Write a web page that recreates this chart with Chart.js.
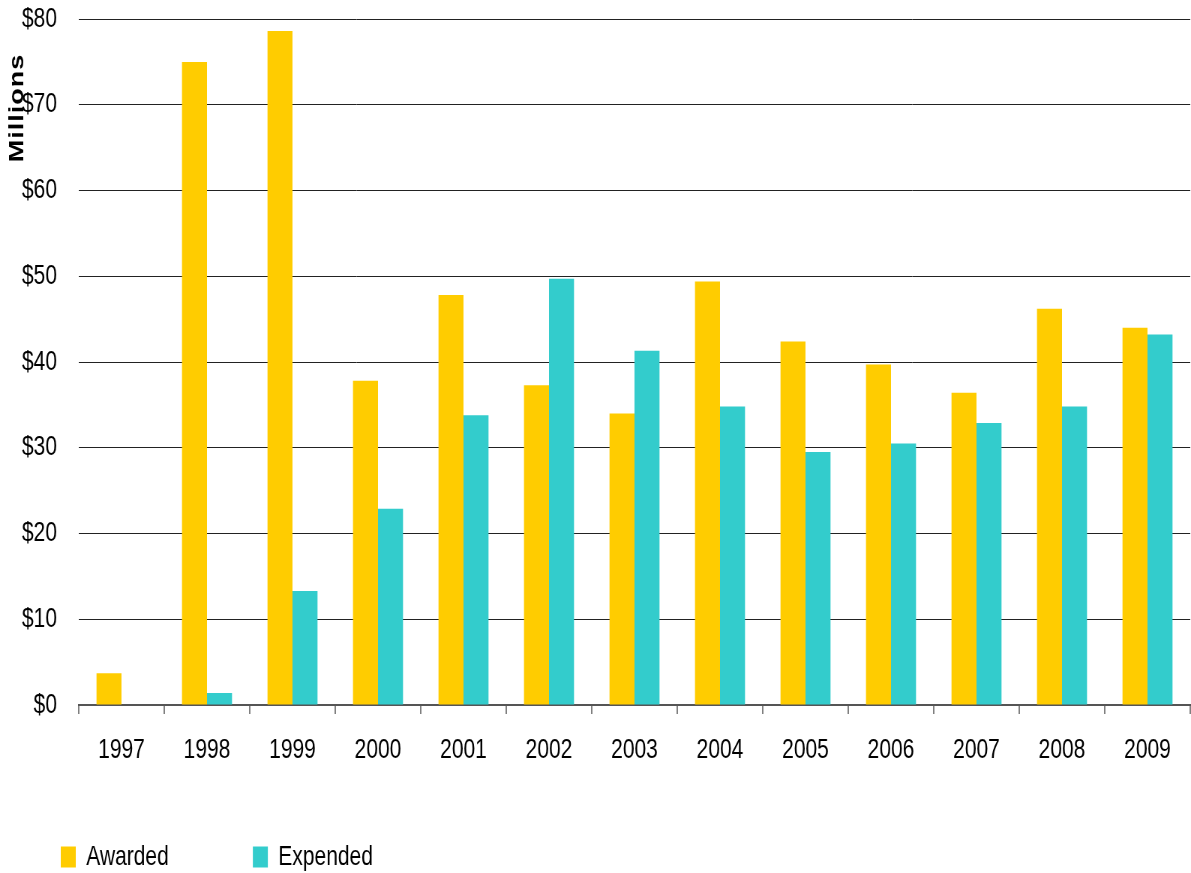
<!DOCTYPE html>
<html lang="en">
<head>
    <meta charset="UTF-8">
    <title>Awarded vs Expended</title>
    <script src="https://cdn.jsdelivr.net/npm/chart.js"></script>
    <style>
        body { margin: 0; background: #fff; overflow: hidden; }
        /* o original usa fonte condensada: desenha mais largo e comprime na horizontal */
        .wrap { width: 1588px; height: 873px; transform: scaleX(0.75); transform-origin: 0 0; }
    </style>
</head>
<body>
    <div class="wrap">
        <canvas id="myChart" width="1588" height="873"></canvas>
    </div>

<script>
    // dados (milhoes de dolares)
    const anos = ['1997', '1998', '1999', '2000', '2001', '2002', '2003', '2004', '2005', '2006', '2007', '2008', '2009'];
    const awarded = [3.7, 75.0, 78.6, 37.8, 47.8, 37.3, 34.0, 49.4, 42.4, 39.7, 36.4, 46.2, 44.0];
    const expended = [0, 1.4, 13.3, 22.9, 33.8, 49.7, 41.3, 34.8, 29.5, 30.5, 32.9, 34.8, 43.2];
    const yTicks = [0, 10, 20, 30, 40, 50, 60, 70, 80];

    const fonte = "'Liberation Sans', Arial, sans-serif";

    // titulo vertical "Millions" no canto superior esquerdo
    const tituloY = {
        id: 'tituloY',
        afterDraw(chart) {
            const ctx = chart.ctx;
            ctx.save();
            ctx.translate(24, 108);
            ctx.rotate(-Math.PI / 2);
            ctx.font = "bold 27px " + fonte;
            ctx.letterSpacing = '1px';
            ctx.fillStyle = '#000';
            ctx.textAlign = 'center';
            ctx.textBaseline = 'middle';
            ctx.fillText('Millions', 0, 0);
            ctx.restore();
        }
    };

    const chartData = {
        labels: anos,
        datasets: [{
            label: 'Awarded    ',
            data: awarded,
            backgroundColor: '#FFCC00',
            borderWidth: 0,
            categoryPercentage: 0.585,
            barPercentage: 1
        }, {
            label: 'Expended',
            data: expended,
            backgroundColor: '#33CCCC',
            borderWidth: 0,
            categoryPercentage: 0.585,
            barPercentage: 1
        }]
    };

    const options = {
        responsive: false,
        animation: false,
        layout: { padding: { top: 19, right: 1, left: 0, bottom: -8 } },
        plugins: {
            tooltip: { enabled: false },
            legend: {
                position: 'bottom',
                align: 'start',
                labels: {
                    boxWidth: 20,
                    boxHeight: 21,
                    padding: 81,
                    color: '#000',
                    font: { family: fonte, size: 28 }
                }
            }
        },
        scales: {
            x: {
                grid: {
                    drawOnChartArea: false,
                    drawTicks: true,
                    tickLength: 9,
                    color: '#808080',
                    lineWidth: 2
                },
                border: { display: true, color: '#555', width: 2 },
                ticks: {
                    color: '#000',
                    padding: 19,
                    font: { family: fonte, size: 28 }
                },
                afterFit(scale) { scale.height = 57; }
            },
            y: {
                min: 0,
                max: 80,
                afterBuildTicks(scale) {
                    scale.ticks = yTicks.map(v => ({ value: v }));
                },
                grid: {
                    drawTicks: true,
                    tickLength: 29,
                    tickColor: 'rgba(0,0,0,0)',
                    color: '#222',
                    lineWidth: 1
                },
                border: { display: false },
                ticks: {
                    color: '#000',
                    padding: 0,
                    font: { family: fonte, size: 28 },
                    callback: v => '$' + v
                },
                afterFit(scale) { scale.width = 105; }
            }
        }
    };

    new Chart(document.getElementById('myChart'), {
        type: 'bar',
        data: chartData,
        options: options,
        plugins: [tituloY]
    });
</script>
</body>
</html>
